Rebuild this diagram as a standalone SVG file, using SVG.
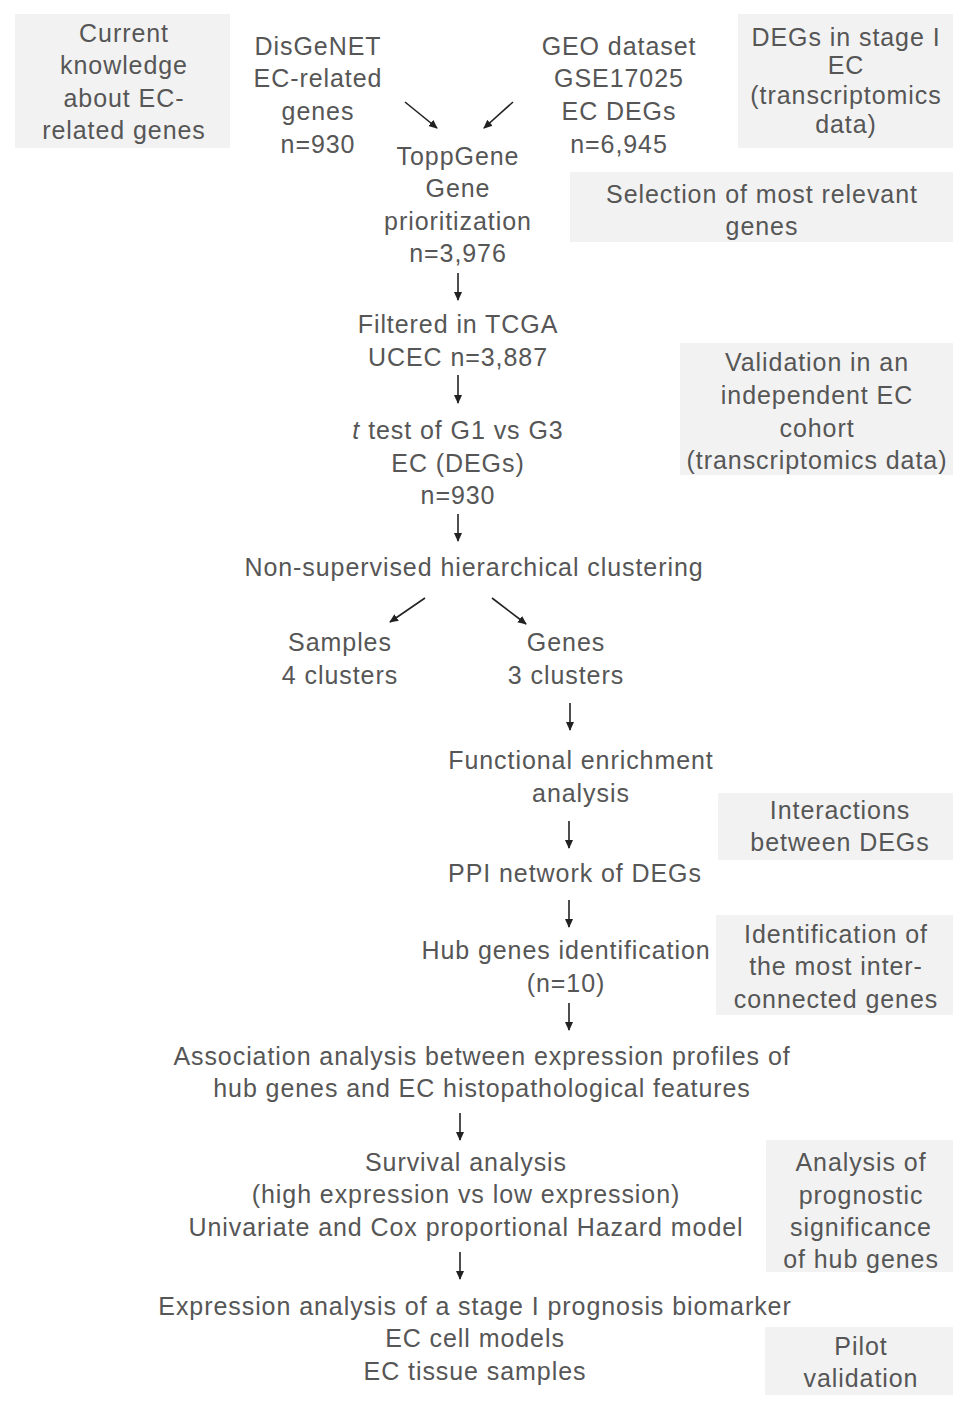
<svg xmlns="http://www.w3.org/2000/svg" width="969" height="1410" viewBox="0 0 969 1410">
<defs>
<style>
text{font-family:"Liberation Sans",Arial,sans-serif;font-size:25px;letter-spacing:0.93px;fill:#565656;text-anchor:middle}
.box{fill:#f2f2f2}
.c line{stroke:#222;stroke-width:1.6;marker-end:url(#ah)}
</style>
<marker id="ah" markerWidth="10" markerHeight="10" refX="8" refY="5" orient="auto" markerUnits="userSpaceOnUse"><path d="M0,1 L9,5 L0,9 Z" fill="#222"/></marker>
</defs>
<rect width="969" height="1410" fill="#fff"/>
<g id="n-current"><rect class="box" x="15" y="14" width="215" height="134"/>
<text x="124" y="42">Current</text><text x="124" y="74">knowledge</text><text x="124" y="107">about EC-</text><text x="124" y="139">related genes</text></g>
<g id="n-disgenet"><text x="318" y="55">DisGeNET</text><text x="318" y="87">EC-related</text><text x="318" y="120">genes</text><text x="318" y="153">n=930</text></g>
<g id="n-geo"><text x="619" y="55">GEO dataset</text><text x="619" y="87">GSE17025</text><text x="619" y="120">EC DEGs</text><text x="619" y="153">n=6,945</text></g>
<g id="n-degs1"><rect class="box" x="738" y="14" width="215" height="134"/>
<text x="846" y="46">DEGs in stage I</text><text x="846" y="74">EC</text><text x="846" y="104">(transcriptomics</text><text x="846" y="133">data)</text></g>
<g id="n-topp"><text x="458" y="165">ToppGene</text><text x="458" y="197">Gene</text><text x="458" y="230">prioritization</text><text x="458" y="262">n=3,976</text></g>
<g id="n-sel"><rect class="box" x="570" y="172" width="383" height="70"/>
<text x="762" y="203">Selection of most relevant</text><text x="762" y="235">genes</text></g>
<g id="n-filt"><text x="458" y="333">Filtered in TCGA</text><text x="458" y="366">UCEC n=3,887</text></g>
<g id="n-valid"><rect class="box" x="680" y="343" width="273" height="132"/>
<text x="817" y="371">Validation in an</text><text x="817" y="404">independent EC</text><text x="817" y="437">cohort</text><text x="817" y="469">(transcriptomics data)</text></g>
<g id="n-ttest"><text x="458" y="439"><tspan font-style="italic">t</tspan> test of G1 vs G3</text><text x="458" y="472">EC (DEGs)</text><text x="458" y="504">n=930</text></g>
<g id="n-clust"><text x="474" y="576">Non-supervised hierarchical clustering</text></g>
<g id="n-samples"><text x="340" y="651">Samples</text><text x="340" y="684">4 clusters</text></g>
<g id="n-genes"><text x="566" y="651">Genes</text><text x="566" y="684">3 clusters</text></g>
<g id="n-func"><text x="581" y="769">Functional enrichment</text><text x="581" y="802">analysis</text></g>
<g id="n-inter"><rect class="box" x="718" y="793" width="235" height="67"/>
<text x="840" y="819">Interactions</text><text x="840" y="851">between DEGs</text></g>
<g id="n-ppi"><text x="575" y="882">PPI network of DEGs</text></g>
<g id="n-hub"><text x="566" y="959">Hub genes identification</text><text x="566" y="992">(n=10)</text></g>
<g id="n-ident"><rect class="box" x="716" y="915" width="237" height="100"/>
<text x="836" y="943">Identification of</text><text x="836" y="975">the most inter-</text><text x="836" y="1008">connected genes</text></g>
<g id="n-assoc"><text x="482" y="1065">Association analysis between expression profiles of</text><text x="482" y="1097">hub genes and EC histopathological features</text></g>
<g id="n-surv"><text x="466" y="1171">Survival analysis</text><text x="466" y="1203">(high expression vs low expression)</text><text x="466" y="1236">Univariate and Cox proportional Hazard model</text></g>
<g id="n-prog"><rect class="box" x="766" y="1140" width="187" height="132"/>
<text x="861" y="1171">Analysis of</text><text x="861" y="1204">prognostic</text><text x="861" y="1236">significance</text><text x="861" y="1268">of hub genes</text></g>
<g id="n-expr"><text x="475" y="1315">Expression analysis of a stage I prognosis biomarker</text><text x="475" y="1347">EC cell models</text><text x="475" y="1380">EC tissue samples</text></g>
<g id="n-pilot"><rect class="box" x="765" y="1327" width="188" height="68"/>
<text x="861" y="1355">Pilot</text><text x="861" y="1387">validation</text></g>
<g id="connectors" class="c">
<line x1="405" y1="102" x2="437" y2="128"/>
<line x1="513" y1="102" x2="484" y2="128"/>
<line x1="458" y1="273" x2="458" y2="300"/>
<line x1="458" y1="375" x2="458" y2="403"/>
<line x1="458" y1="514" x2="458" y2="541"/>
<line x1="425" y1="598" x2="390" y2="622"/>
<line x1="492" y1="598" x2="526" y2="624"/>
<line x1="570" y1="703" x2="570" y2="730"/>
<line x1="569" y1="821" x2="569" y2="848"/>
<line x1="569" y1="900" x2="569" y2="927"/>
<line x1="569" y1="1003" x2="569" y2="1030"/>
<line x1="460" y1="1113" x2="460" y2="1140"/>
<line x1="460" y1="1252" x2="460" y2="1279"/>
</g>
</svg>
